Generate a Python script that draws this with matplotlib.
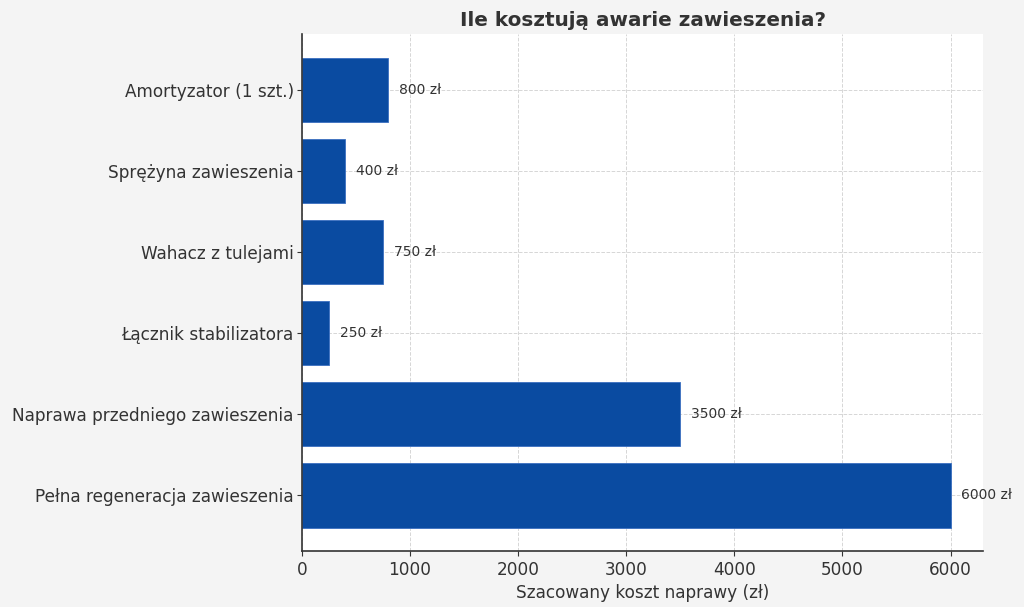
import matplotlib.pyplot as plt

plt.rcParams["font.family"] = ["DejaVu Sans"]

# data (top to bottom order as shown)
categories = [
    "Amortyzator (1 szt.)",
    "Sprężyna zawieszenia",
    "Wahacz z tulejami",
    "Łącznik stabilizatora",
    "Naprawa przedniego zawieszenia",
    "Pełna regeneracja zawieszenia",
]
costs = [800, 400, 750, 250, 3500, 6000]

text_color = "#333333"
bar_color = "#0a4ba1"

fig = plt.figure(figsize=(10.24, 6.07), dpi=100, facecolor="#f4f4f4")
ax = fig.add_axes([302 / 1024, 1 - 551 / 607, (983 - 302) / 1024, (551 - 34) / 607])
ax.set_facecolor("white")

# reverse so first category sits at the top
labels = categories[::-1]
values = costs[::-1]
bars = ax.barh(labels, values, height=0.8, color=bar_color, edgecolor="#3a6fc0", linewidth=0.6, zorder=2)

for bar, v in zip(bars, values):
    ax.text(v + 100, bar.get_y() + bar.get_height() / 2, f"{v} zł",
            va="center", ha="left", fontsize=10, color=text_color, zorder=3)

ax.grid(True, linestyle="--", color="#d6d6d6", linewidth=0.7, zorder=0)
ax.set_axisbelow(True)
for side in ["top", "right"]:
    ax.spines[side].set_visible(False)
for side in ["left", "bottom"]:
    ax.spines[side].set_color(text_color)
    ax.spines[side].set_linewidth(1.2)

ax.tick_params(axis="both", labelsize=12.2, colors=text_color)
ax.tick_params(axis="y", pad=2.5)
ax.set_xlabel("Szacowany koszt naprawy (zł)", fontsize=12.2, color=text_color)
ax.set_title("Ile kosztują awarie zawieszenia?", fontsize=14.4, fontweight="bold", color=text_color)

fig.savefig("out.png", dpi=100, facecolor=fig.get_facecolor())
